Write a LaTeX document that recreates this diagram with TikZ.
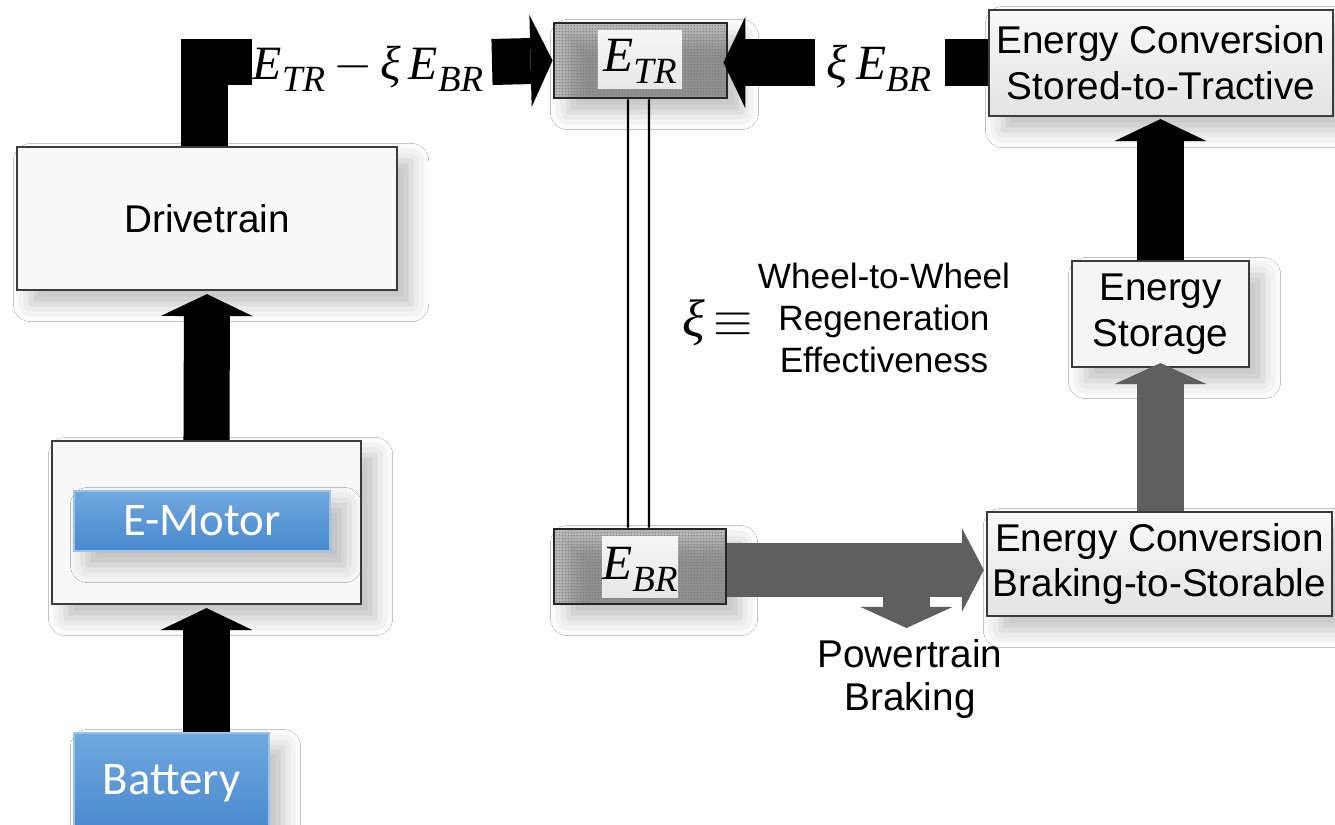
\documentclass[tikz,border=0pt]{standalone}
\usepackage{fontspec}
\setmainfont{Liberation Serif}
\newfontfamily\arial{Liberation Sans}
\newfontfamily\calibri{Carlito}
\usetikzlibrary{arrows.meta,patterns.meta,shadows.blur}
\definecolor{bluetop}{HTML}{70A8DF}
\definecolor{bluebot}{HTML}{4888CC}
\definecolor{arrgrey}{HTML}{5F5F5F}
\definecolor{boxline}{HTML}{3C3C3C}
\definecolor{plainfill}{HTML}{F8F8F8}
\tikzdeclarepattern{
  name=finedots,
  type=uncolored,
  bounding box={(-0.45pt,-0.45pt) and (0.45pt,0.45pt)},
  tile size={(0.9pt,0.9pt)},
  code={\fill (0pt,0pt) circle (0.25pt);}
}
\newcommand\Esym[1]{\textit{E}\raisebox{-3.2pt}{\fontsize{10.5}{11}\selectfont\textit{#1}}}
\begin{document}
\begin{tikzpicture}[x=0.01cm,y=-0.01cm,
  shd/.style={blur shadow={shadow xshift=4pt,shadow yshift=-4pt,shadow blur radius=5pt,shadow opacity=25}},
  box/.style={draw=boxline,line width=0.6pt,inner sep=0pt,align=center,
    font=\arial\fontsize{11}{13}\selectfont},
  plainbox/.style={box,fill=plainfill,shd},
  convbox/.style={box,top color=gray!5,bottom color=gray!22,shd},
  bluebox/.style={draw=bluetop!70!white,line width=0.4pt,top color=bluetop,bottom color=bluebot,
    text=white,inner sep=0pt,font=\calibri\fontsize{13.3}{15}\selectfont,shd},
  ebox/.style={draw=black!85,line width=0.8pt,inner sep=0pt,preaction={fill=gray!50},
    pattern=finedots,pattern color=gray!95!black,shd},
  einner/.style={inner sep=0pt,top color=gray!8,bottom color=gray!18},
  mlabel/.style={anchor=base,inner sep=0pt,font=\fontsize{14}{16}\selectfont},
  blk/.style={line width=0.46cm,draw=black,line join=miter,
    -{Triangle[width=0.92cm,length=0.22cm,line width=0pt]}},
  blkbody/.style={line width=0.46cm,draw=black},
  gry/.style={line width=0.54cm,draw=arrgrey,
    -{Triangle[width=0.84cm,length=0.22cm,line width=0pt]}},
  gryv/.style={line width=0.47cm,draw=arrgrey,
    -{Triangle[width=0.92cm,length=0.21cm,line width=0pt]}}
]
\useasboundingbox (0,0) rectangle (1335,825);
\fill[white] (0,0) rectangle (1335,825);

% boxes
\node[plainbox,minimum width=3.80cm,minimum height=1.43cm] (drv) at (207,218.5) {Drivetrain};
\node[plainbox,minimum width=3.09cm,minimum height=1.63cm] (emo) at (206.5,522.5) {};
\node[bluebox,minimum width=2.56cm,minimum height=0.60cm] (emoin) at (202,521) {E-Motor};
\node[bluebox,minimum width=1.95cm,minimum height=1.00cm] (bat) at (171.5,783) {Battery};

\node[ebox,minimum width=1.73cm,minimum height=0.75cm] (etr) at (640.5,60.5) {};
\node[einner,minimum width=0.84cm,minimum height=0.57cm] (etrin) at (640,59.5) {};
\node[mlabel] (etrtxt) at (640,72) {\Esym{TR}};

\node[ebox,minimum width=1.72cm,minimum height=0.75cm] (ebr) at (640,566.5) {};
\node[einner,minimum width=0.76cm,minimum height=0.60cm] (ebrin) at (640,567) {};
\node[mlabel] (ebrtxt) at (640,580) {\Esym{BR}};

\node[convbox,minimum width=3.44cm,minimum height=1.06cm] (conv1) at (1161,63)
  {Energy Conversion\\Stored-to-Tractive};
\node[convbox,minimum width=3.45cm,minimum height=1.04cm] (conv2) at (1159.5,564)
  {Energy Conversion\\Braking-to-Storable};
\node[plainbox,fill=gray!8,minimum width=1.77cm,minimum height=1.06cm] (sto) at (1160.5,314)
  {Energy\\Storage};

% labels
\node[mlabel,font=\fontsize{13.6}{16}\selectfont] (lab1) at (368,80) {\Esym{TR}\,$-$\,\textit{ξ}\,\Esym{BR}};
\node[mlabel] (lab2) at (879,80) {\textit{ξ}\,\Esym{BR}};
\node[inner sep=0pt,font=\fontsize{15}{16}\selectfont] (xi) at (718,323) {\textit{ξ}\,$\equiv$};
\node[inner sep=0pt,align=center,font=\arial\fontsize{10}{12}\selectfont] (def) at (884,318)
  {Wheel-to-Wheel\\Regeneration\\Effectiveness};
\node[inner sep=0pt,align=center,font=\arial\fontsize{11}{12}\selectfont] (ptb) at (910,679)
  {Powertrain\\Braking};

% black connectors
\draw[blk,shorten >=0.03cm] (emo.north) -- (drv.south);
\draw[blk,shorten >=0.03cm] (emo.south |- bat.north) -- (emo.south);
\coordinate (a1) at (252,62);
\coordinate (a2) at (492,62);
\draw[blkbody,line join=miter] ([xshift=-0.025cm]drv.north) |- (a1);
\draw[blk] (a2) -- (etr.west);
\coordinate (b1) at (945,62.5);
\coordinate (b2) at (815,62.5);
\draw[blkbody] (conv1.west |- b1) -- (b1);
\draw[blk,shorten >=-0.05cm] (b2) -- (etr.east |- b2);
\draw[blk,shorten >=0.02cm] (sto.north) -- (sto.north |- conv1.south);

% double link between E_TR and E_BR
\draw[line width=0.7pt] ([xshift=-0.125cm]etr.south) -- ([xshift=-0.12cm]ebr.north);
\draw[line width=0.7pt] ([xshift=0.085cm]etr.south) -- ([xshift=0.09cm]ebr.north);

% grey connectors
\draw[gry,shorten >=0.02cm] ([yshift=-0.035cm]ebr.east) -- ([yshift=-0.035cm]ebr.east -| conv2.west);
\coordinate (pb) at (906.5,590);
\coordinate (pe) at (906.5,628);
\draw[gryv] (pb) -- (pe);
\draw[gryv,shorten >=-0.05cm] (sto.south |- conv2.north) -- (sto.south);
\end{tikzpicture}
\end{document}
